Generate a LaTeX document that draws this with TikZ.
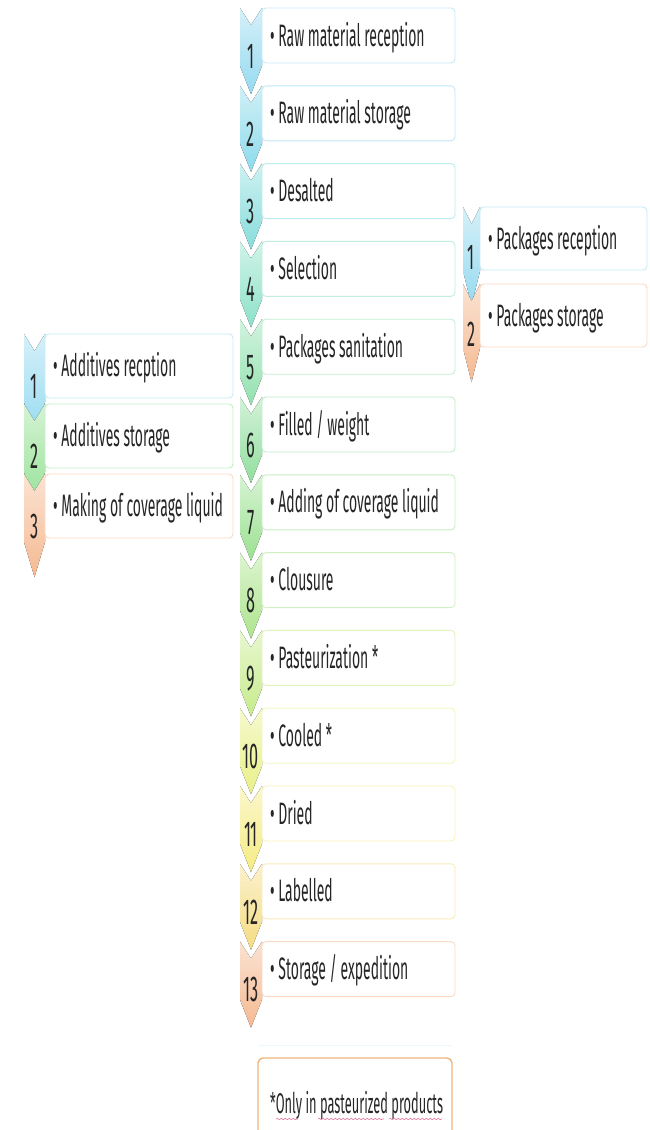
\documentclass[tikz,border=0pt]{standalone}
\usepackage{fontspec}
\setmainfont{Fira Sans}[FakeStretch=0.45]
\usetikzlibrary{decorations.pathmorphing}
\definecolor{m1}{RGB}{150,218,240}
\definecolor{m2}{RGB}{140,218,235}
\definecolor{m3}{RGB}{135,220,220}
\definecolor{m4}{RGB}{140,225,200}
\definecolor{m5}{RGB}{145,225,175}
\definecolor{m6}{RGB}{145,222,158}
\definecolor{m7}{RGB}{155,225,145}
\definecolor{m8}{RGB}{172,228,140}
\definecolor{m9}{RGB}{198,235,140}
\definecolor{m10}{RGB}{232,240,135}
\definecolor{m11}{RGB}{245,235,130}
\definecolor{m12}{RGB}{245,220,130}
\definecolor{m13}{RGB}{245,185,145}
\definecolor{cBlue}{RGB}{150,218,240}
\definecolor{cGreen}{RGB}{150,225,150}
\definecolor{cPeach}{RGB}{245,185,145}
\definecolor{noteborder}{RGB}{240,180,125}
\definecolor{squiggle}{RGB}{230,120,150}
\tikzset{
  txt/.style={anchor=base west, inner sep=0pt, font=\fontsize{31}{34}\selectfont, text=black!85},
  num/.style={inner sep=0pt, font=\fontsize{36}{38}\selectfont, text=black!85},
  box/.style={rounded corners=4pt, line width=0.9pt, fill=white},
  wavy/.style={squiggle, line width=0.6pt, decorate, decoration={snake, amplitude=0.7pt, segment length=4pt}},
}
\begin{document}
\begin{tikzpicture}[x=1pt,y=-1pt]
\useasboundingbox (0,0) rectangle (650,1130);
\fill[white] (0,0) rectangle (650,1130);
% main column
\foreach \i/\c/\t in {1/m1/{Raw material reception},2/m2/{Raw material storage},3/m3/{Desalted},4/m4/{Selection},5/m5/{Packages sanitation},6/m6/{Filled / weight},7/m7/{Adding of coverage liquid},8/m8/{Clousure},9/m9/{Pasteurization *},10/m10/{Cooled *},11/m11/{Dried},12/m12/{Labelled},13/m13/{Storage / expedition}}{
  \pgfmathsetmacro\yt{8+(\i-1)*77.8}
  \fill[top color=\c!40!white, bottom color=\c] (240,\yt) -- (251,\yt+17) -- (262,\yt) -- (262,\yt+58) -- (251,\yt+86) -- (240,\yt+58) -- cycle;
  \draw[box, draw=\c!55!white] (262,\yt) rectangle (455,\yt+55);
  \node[txt] (m\i) at (270,\yt+27.5+10.5) {\textbullet\ \t};
  \node[num] (mn\i) at (251,\yt+48) {\i};
}
% left column
\foreach \i/\c/\t in {1/cBlue/{Additives recption},2/cGreen/{Additives storage},3/cPeach/{Making of coverage liquid}}{
  \pgfmathsetmacro\yt{334+(\i-1)*70}
  \fill[top color=\c!40!white, bottom color=\c] (24,\yt) -- (34.5,\yt+17) -- (45,\yt) -- (45,\yt+68) -- (34.5,\yt+103) -- (24,\yt+68) -- cycle;
  \draw[box, draw=\c!55!white] (45,\yt) rectangle (233,\yt+64);
  \node[txt] (l\i) at (53,\yt+32+10.5) {\textbullet\ \t};
  \node[num] (ln\i) at (34.5,\yt+52) {\i};
}
% right column
\foreach \i/\c/\t in {1/cBlue/{Packages reception},2/cPeach/{Packages storage}}{
  \pgfmathsetmacro\yt{207+(\i-1)*77}
  \fill[top color=\c!40!white, bottom color=\c] (463,\yt) -- (471.5,\yt+17) -- (480,\yt) -- (480,\yt+64) -- (471.5,\yt+98) -- (463,\yt+64) -- cycle;
  \draw[box, draw=\c!55!white] (480,\yt) rectangle (647,\yt+63);
  \node[txt] (r\i) at (488,\yt+31.5+10.5) {\textbullet\ \t};
  \node[num] (rn\i) at (471.5,\yt+50) {\i};
}
% note
\draw[cyan!8, line width=1pt] (258,1045) -- (452,1045);
\draw[rounded corners=5pt, line width=1.4pt, draw=noteborder, fill=white] (258,1058) rectangle (452,1140);
\node[txt, font=\fontsize{28.5}{31}\selectfont] (note) at (270,1113) {*Only in pasteurized products};
\draw[wavy] (276,1119) -- (298,1119);
\draw[wavy] (318,1119) -- (384,1119);
\draw[wavy] (389,1119) -- (442,1119);
\end{tikzpicture}
\end{document}
